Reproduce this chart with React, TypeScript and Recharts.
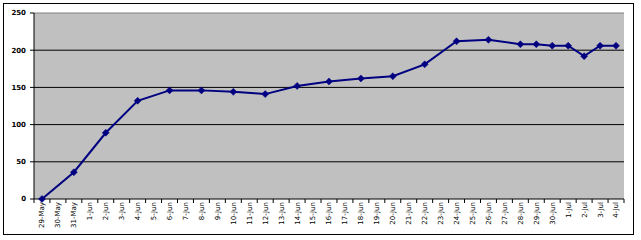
import React from "react";
import { CartesianGrid, Line, LineChart, ReferenceLine, XAxis, YAxis } from "recharts";

const categories = [
  "29-May", "30-May", "31-May",
  "1-Jun", "2-Jun", "3-Jun", "4-Jun", "5-Jun", "6-Jun", "7-Jun", "8-Jun", "9-Jun", "10-Jun",
  "11-Jun", "12-Jun", "13-Jun", "14-Jun", "15-Jun", "16-Jun", "17-Jun", "18-Jun", "19-Jun", "20-Jun",
  "21-Jun", "22-Jun", "23-Jun", "24-Jun", "25-Jun", "26-Jun", "27-Jun", "28-Jun", "29-Jun", "30-Jun",
  "1-Jul", "2-Jul", "3-Jul", "4-Jul",
];

const values: Array<number | null> = [
  0, null, 36,
  null, 89, null, 132, null, 146, null, 146, null, 144,
  null, 141, null, 152, null, 158, null, 162, null, 165,
  null, 181, null, 212, null, 214, null, 208, 208, 206,
  206, 192, 206, 206,
];

const yTicks = [0, 50, 100, 150, 200, 250];

const data = categories.map((label, i) => ({ label, value: values[i] }));

const PLOT_LEFT = 34;
const PLOT_RIGHT = 624;
const BAND = (PLOT_RIGHT - PLOT_LEFT) / categories.length;
const FONT = "'DejaVu Sans', sans-serif";

function Diamond(props: any) {
  const { cx, cy } = props;
  if (cx == null || cy == null || props.value == null) return null;
  const r = 3.5;
  return (
    <polygon
      points={`${cx},${cy - r} ${cx + r},${cy} ${cx},${cy + r} ${cx - r},${cy}`}
      fill="#000080"
      stroke="#000080"
      strokeWidth={0.5}
    />
  );
}

function DateTick(props: any) {
  const { x, y, payload, index } = props;
  const last = index === categories.length - 1;
  return (
    <g>
      <line x1={x - BAND / 2} y1={y} x2={x - BAND / 2} y2={y + 4} stroke="#000" />
      {last ? <line x1={x + BAND / 2} y1={y} x2={x + BAND / 2} y2={y + 4} stroke="#000" /> : null}
      <text
        x={x}
        y={y + 3}
        transform={`rotate(-90, ${x}, ${y + 3})`}
        textAnchor="end"
        dy="0.35em"
        fontSize={7}
        fontFamily={FONT}
        fill="#000"
      >
        {payload.value}
      </text>
    </g>
  );
}

export default function App() {
  return (
    <div style={{ position: "absolute", left: 0, top: 0, width: 641, height: 240, background: "#fff" }}>
      <div
        style={{
          position: "absolute",
          left: 3,
          top: 3,
          width: 629,
          height: 230,
          border: "1px solid #000",
        }}
      />
      <div style={{ position: "absolute", left: 0, top: 0 }}>
        <LineChart width={641} height={240} data={data} margin={{ top: 13, right: 641 - PLOT_RIGHT, left: 0, bottom: 5 }}>
          <CartesianGrid fill="#C0C0C0" stroke="#000" vertical={false} horizontalValues={[50, 100, 150, 200]} />
          <ReferenceLine y={250} stroke="#808080" ifOverflow="visible" />
          <XAxis
            dataKey="label"
            interval={0}
            padding={{ left: BAND / 2, right: BAND / 2 }}
            height={36}
            tickSize={0}
            tickMargin={0}
            tickLine={false}
            axisLine={{ stroke: "#000" }}
            tick={<DateTick />}
          />
          <YAxis
            width={PLOT_LEFT}
            domain={[0, 250]}
            ticks={yTicks}
            interval={0}
            tickSize={4}
            tickMargin={4}
            axisLine={{ stroke: "#000" }}
            tickLine={{ stroke: "#000" }}
            tick={{ fontSize: 7, fontFamily: FONT, fill: "#000", fontWeight: "bold" }}
          />
          <Line
            dataKey="value"
            type="linear"
            stroke="#000080"
            strokeWidth={2}
            connectNulls
            dot={<Diamond />}
            activeDot={false}
            isAnimationActive={false}
          />
        </LineChart>
      </div>
    </div>
  );
}
